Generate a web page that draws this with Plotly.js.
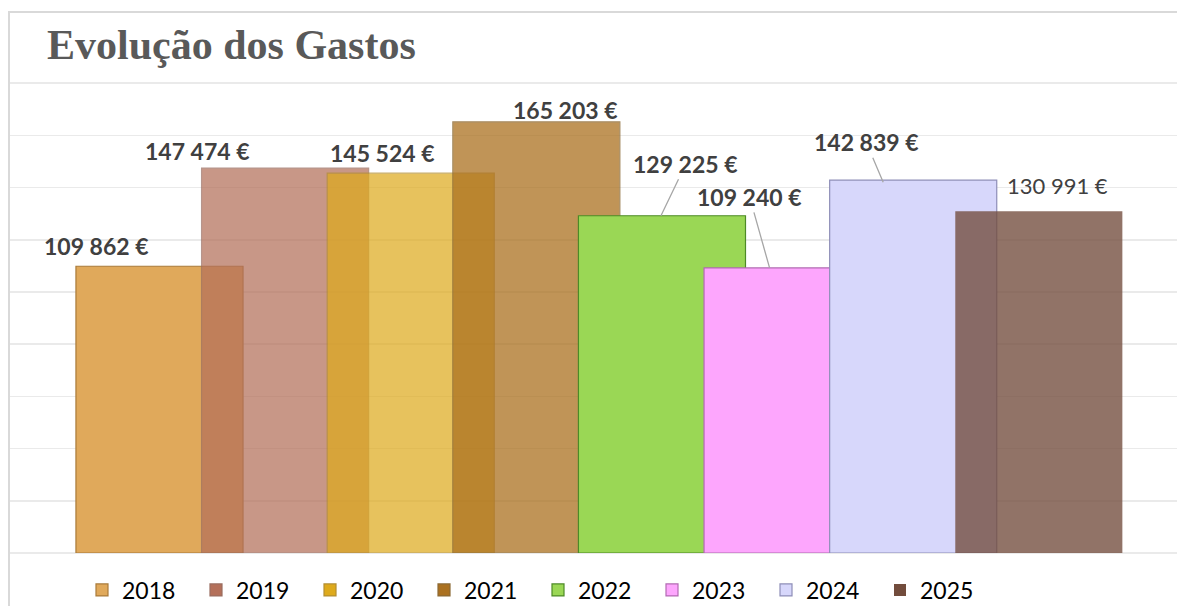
<!DOCTYPE html>
<html>
<head>
<meta charset="utf-8">
<script src="https://cdn.plot.ly/plotly-3.0.1.min.js"></script>
<style>
  html, body { margin: 0; padding: 0; background: #ffffff; }
  #frame { position: absolute; left: 8px; top: 11px; width: 1169px; height: 595px;
           border-left: 2px solid #d9d9d9; border-top: 2px solid #d9d9d9; box-sizing: border-box; }
  #chart { position: absolute; left: 0; top: 0; width: 1177px; height: 606px; }
</style>
</head>
<body>
<div id="frame"></div>
<div id="chart"></div>
<script>
// ---- data ----
const years  = ['2018', '2019', '2020', '2021', '2022', '2023', '2024', '2025'];
const values = [109862, 147474, 145524, 165203, 129225, 109240, 142839, 130991];
const colors = ['#E0A95B', '#B4705A', '#DEAA1C', '#AB7120', '#9AD755', '#FDA6FD', '#D7D7FB', '#724C3C'];
const lineColors = ['#A97B3A', '#9A6D60', '#B38E32', '#8C6A35', '#4D8A26', '#B26AB2', '#8E8EB8', 'rgba(0,0,0,0)'];
const opacities = [1, 0.72, 0.71, 0.75, 1, 1, 1, 0.78];

function fmt(v) {
  return String(v).replace(/\B(?=(\d{3})+(?!\d))/g, ' ') + ' €';
}

const traces = years.map((yr, i) => ({
  type: 'bar',
  name: yr,
  x: [yr],
  y: [values[i]],
  width: 1.33,
  marker: { color: colors[i], opacity: opacities[i],
            line: { color: lineColors[i], width: i === 7 ? 0 : 1.2 } },
  hoverinfo: 'skip'
}));

// label placement (offsets in px relative to bar top); x given as category index
const labelFont = { family: 'Lato, "Open Sans", sans-serif', size: 23, color: '#404040', weight: 700 };
const plain = [
  { i: 0, xs: -63, ys: 20 },
  { i: 1, xs: -88, ys: 17 },
  { i: 2, xs: -28, ys: 20 },
  { i: 3, xs: 29,  ys: 12 },
];
const annotations = plain.map(p => ({
  x: p.i, y: values[p.i], xref: 'x', yref: 'y',
  text: fmt(values[p.i]), showarrow: false,
  xshift: p.xs, yshift: p.ys, xanchor: 'center', yanchor: 'middle',
  font: Object.assign({}, labelFont)
}));
const leader = [
  { i: 4, xs: -1,  ys: 0,  ax: 25,  ay: -52 },
  { i: 5, xs: -18, ys: 0,  ax: -20, ay: -71 },
  { i: 6, xs: -30, ys: -2, ax: -17, ay: -40 },
];
leader.forEach(p => annotations.push({
  x: p.i, y: values[p.i], xref: 'x', yref: 'y',
  text: fmt(values[p.i]), showarrow: true, arrowhead: 0, arrowwidth: 1.3,
  arrowcolor: '#A6A6A6', standoff: 0,
  xshift: p.xs, yshift: p.ys, ax: p.ax, ay: p.ay,
  font: Object.assign({}, labelFont)
}));
annotations.push({
  x: 7, y: values[7], xref: 'x', yref: 'y',
  text: fmt(values[7]), showarrow: false, xshift: 19, yshift: 26,
  xanchor: 'center', yanchor: 'middle',
  font: { family: 'Lato, "Open Sans", sans-serif', size: 22, color: '#404040', weight: 400 }
});

const layout = {
  width: 1177, height: 606,
  paper_bgcolor: 'rgba(0,0,0,0)', plot_bgcolor: 'rgba(0,0,0,0)',
  margin: { l: 10, r: 0, t: 78, b: 53, autoexpand: false },
  barmode: 'overlay',
  title: {
    text: 'Evolução dos Gastos',
    xref: 'container', yref: 'container', x: 47 / 1177, xanchor: 'left',
    y: 1 - 44 / 606, yanchor: 'middle',
    font: { family: '"Liberation Serif", "DejaVu Serif", serif', size: 42, color: '#595959', weight: 700 }
  },
  xaxis: {
    type: 'category', range: [-1.19, 8.10], showticklabels: false,
    showgrid: false, zeroline: false, showline: false, ticks: ''
  },
  yaxis: {
    range: [0, 182000], tick0: 0, dtick: 20000, showticklabels: false,
    showgrid: true, gridcolor: '#EAEAEA', gridwidth: 1.5,
    zeroline: true, zerolinecolor: '#EAEAEA', zerolinewidth: 1.5, showline: false, ticks: ''
  },
  showlegend: true,
  legend: {
    orientation: 'h', xref: 'container', x: 82 / 1177, xanchor: 'left',
    yref: 'container', y: 1 - 590 / 606, yanchor: 'middle',
    entrywidth: 69, entrywidthmode: 'pixels',
    font: { family: 'Lato, "Open Sans", sans-serif', size: 23, color: '#000000' },
    traceorder: 'normal', bgcolor: 'rgba(0,0,0,0)'
  },
  annotations: annotations
};

Plotly.newPlot('chart', traces, layout, { displayModeBar: false, staticPlot: true });
</script>
</body>
</html>
